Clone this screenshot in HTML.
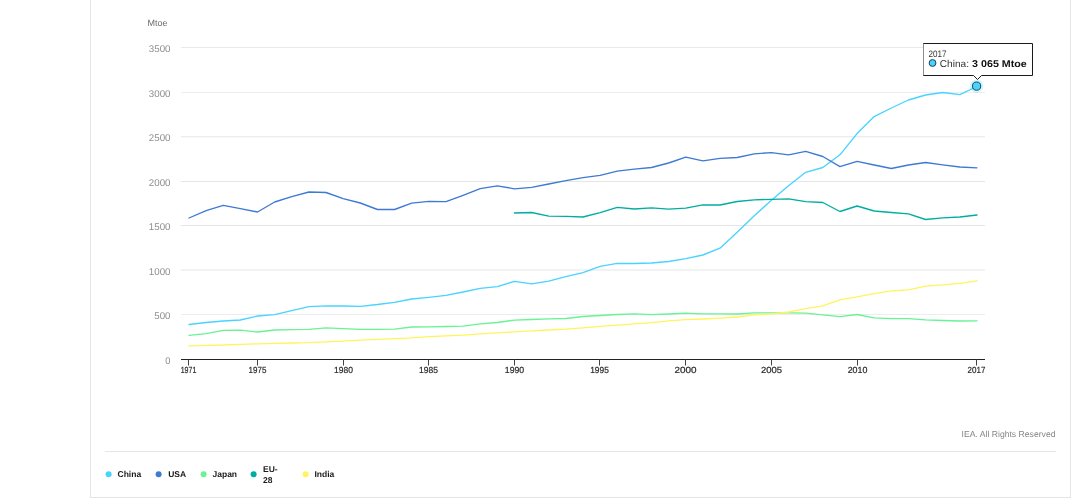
<!DOCTYPE html>
<html lang="en">
<head>
<meta charset="utf-8">
<title>Total primary energy supply</title>
<style>
html,body{margin:0;padding:0;background:#fff;}
body{width:1080px;height:504px;overflow:hidden;position:relative;font-family:"Liberation Sans",Arial,sans-serif;text-rendering:geometricPrecision;}
.card{position:absolute;left:90px;top:-10px;width:979px;height:506px;border:1px solid #e5e5e5;background:#fff;}
svg{position:absolute;left:0;top:0;text-rendering:geometricPrecision;}
.yl{font-size:9.8px;fill:#8e8e8e;}
.xl{font-size:8.9px;fill:#2b2b2b;stroke:#2b2b2b;stroke-width:0.2px;}
.unit{font-size:9px;fill:#6b6b6b;}
.sep{position:absolute;left:105px;top:451px;width:951px;height:1px;background:#e5e5e5;}
.credit{position:absolute;right:24.5px;top:428px;font-size:8.65px;color:#858585;white-space:nowrap;line-height:12px;}
.legend{position:absolute;left:0;top:0;}
.li{position:absolute;font-size:8.5px;font-weight:bold;color:#1a1a1a;line-height:11.7px;white-space:nowrap;}
</style>
</head>
<body>
<div class="card"></div>
<svg width="1080" height="504" viewBox="0 0 1080 504">
<text x="147.5" y="26.2" class="unit">Mtoe</text>
<line x1="181" x2="985" y1="314.50" y2="314.50" stroke="#ededed" stroke-width="1"/>
<line x1="181" x2="985" y1="270.00" y2="270.00" stroke="#e6e6e6" stroke-width="1"/>
<line x1="181" x2="985" y1="225.50" y2="225.50" stroke="#e5e5e5" stroke-width="1"/>
<line x1="181" x2="985" y1="181.50" y2="181.50" stroke="#e5e5e5" stroke-width="1"/>
<line x1="181" x2="985" y1="136.80" y2="136.80" stroke="#e6e6e6" stroke-width="1"/>
<line x1="181" x2="985" y1="92.50" y2="92.50" stroke="#ededed" stroke-width="1"/>
<line x1="181" x2="985" y1="47.50" y2="47.50" stroke="#e9e9e9" stroke-width="1"/>

<text x="170.5" y="364.00" text-anchor="end" class="yl" textLength="5.2" lengthAdjust="spacingAndGlyphs">0</text>
<text x="170.5" y="319.00" text-anchor="end" class="yl" textLength="16.2" lengthAdjust="spacingAndGlyphs">500</text>
<text x="170.5" y="275.00" text-anchor="end" class="yl" textLength="21.7" lengthAdjust="spacingAndGlyphs">1000</text>
<text x="170.5" y="230.00" text-anchor="end" class="yl" textLength="21.7" lengthAdjust="spacingAndGlyphs">1500</text>
<text x="170.5" y="186.00" text-anchor="end" class="yl" textLength="21.7" lengthAdjust="spacingAndGlyphs">2000</text>
<text x="170.5" y="141.00" text-anchor="end" class="yl" textLength="21.7" lengthAdjust="spacingAndGlyphs">2500</text>
<text x="170.5" y="97.00" text-anchor="end" class="yl" textLength="21.7" lengthAdjust="spacingAndGlyphs">3000</text>
<text x="170.5" y="52.00" text-anchor="end" class="yl" textLength="21.7" lengthAdjust="spacingAndGlyphs">3500</text>

<g fill="none" stroke-width="1.35" stroke-linejoin="round" stroke-linecap="round">
<polyline stroke="#49d3ff" points="189.00,324.50 206.13,322.50 223.26,321.00 240.39,320.00 257.52,316.00 274.65,314.60 291.78,310.60 308.91,306.60 326.04,305.80 343.17,306.00 360.30,306.30 377.43,304.50 394.56,302.30 411.69,299.00 428.82,297.30 445.95,295.30 463.08,292.00 480.21,288.30 497.34,286.60 514.47,281.30 531.60,283.80 548.73,281.10 565.86,276.60 582.99,272.60 600.12,266.30 617.25,263.30 634.38,263.50 651.51,263.00 668.64,261.50 685.77,258.70 702.90,255.00 720.03,248.20 737.16,232.30 754.29,215.70 771.42,200.30 788.55,185.80 805.68,172.30 822.81,167.50 839.94,154.80 857.07,133.60 874.20,116.60 891.33,108.00 908.46,100.00 925.59,95.00 942.72,92.50 959.85,94.60 976.98,86.50"/>
<polyline stroke="#3e7ad3" points="189.00,218.00 206.13,210.60 223.26,205.30 240.39,208.60 257.52,212.00 274.65,202.00 291.78,196.60 308.91,192.00 326.04,192.50 343.17,198.60 360.30,203.00 377.43,209.50 394.56,209.50 411.69,203.10 428.82,201.30 445.95,201.60 463.08,195.30 480.21,188.60 497.34,185.80 514.47,188.80 531.60,187.40 548.73,184.00 565.86,180.60 582.99,177.60 600.12,175.30 617.25,171.10 634.38,169.10 651.51,167.50 668.64,163.00 685.77,157.10 702.90,160.80 720.03,158.30 737.16,157.50 754.29,153.80 771.42,152.60 788.55,154.80 805.68,151.30 822.81,156.50 839.94,166.60 857.07,161.40 874.20,165.00 891.33,168.50 908.46,165.00 925.59,162.50 942.72,164.80 959.85,167.00 976.98,167.80"/>
<polyline stroke="#68f394" points="189.00,335.30 206.13,333.60 223.26,330.30 240.39,330.10 257.52,332.00 274.65,330.00 291.78,329.60 308.91,329.30 326.04,327.80 343.17,328.60 360.30,329.30 377.43,329.30 394.56,329.10 411.69,327.00 428.82,326.80 445.95,326.50 463.08,326.10 480.21,323.80 497.34,322.50 514.47,320.10 531.60,319.50 548.73,318.80 565.86,318.50 582.99,316.50 600.12,315.50 617.25,314.50 634.38,313.80 651.51,314.60 668.64,314.00 685.77,313.10 702.90,313.80 720.03,313.80 737.16,314.00 754.29,312.80 771.42,312.80 788.55,312.80 805.68,313.10 822.81,314.80 839.94,316.60 857.07,314.50 874.20,317.80 891.33,318.60 908.46,318.60 925.59,319.80 942.72,320.50 959.85,321.00 976.98,320.80"/>
<polyline stroke="#00ada1" points="514.47,213.00 531.60,212.50 548.73,216.10 565.86,216.30 582.99,217.00 600.12,212.60 617.25,207.30 634.38,209.00 651.51,207.80 668.64,209.10 685.77,208.20 702.90,204.80 720.03,205.00 737.16,201.50 754.29,199.80 771.42,199.30 788.55,198.80 805.68,201.60 822.81,202.50 839.94,211.50 857.07,206.00 874.20,211.00 891.33,212.50 908.46,213.80 925.59,219.50 942.72,217.80 959.85,217.00 976.98,215.00"/>
<polyline stroke="#fff45c" points="189.00,345.80 206.13,345.30 223.26,345.00 240.39,344.30 257.52,343.80 274.65,343.30 291.78,343.00 308.91,342.60 326.04,341.80 343.17,341.10 360.30,340.20 377.43,339.30 394.56,338.60 411.69,337.80 428.82,336.60 445.95,335.80 463.08,335.10 480.21,333.80 497.34,332.80 514.47,331.90 531.60,330.90 548.73,330.00 565.86,329.10 582.99,327.80 600.12,326.30 617.25,325.10 634.38,323.80 651.51,322.60 668.64,320.80 685.77,319.70 702.90,319.00 720.03,318.10 737.16,317.00 754.29,314.80 771.42,313.80 788.55,312.00 805.68,308.60 822.81,305.80 839.94,299.90 857.07,296.80 874.20,293.60 891.33,290.80 908.46,289.80 925.59,286.10 942.72,284.80 959.85,283.30 976.98,280.80"/>
</g>
<line x1="181" x2="985" y1="359.5" y2="359.5" stroke="#222" stroke-width="1"/>
<line x1="188.50" x2="188.50" y1="359.5" y2="365.5" stroke="#444" stroke-width="1"/>
<line x1="257.50" x2="257.50" y1="359.5" y2="365.5" stroke="#444" stroke-width="1"/>
<line x1="343.50" x2="343.50" y1="359.5" y2="365.5" stroke="#444" stroke-width="1"/>
<line x1="428.50" x2="428.50" y1="359.5" y2="365.5" stroke="#444" stroke-width="1"/>
<line x1="514.50" x2="514.50" y1="359.5" y2="365.5" stroke="#444" stroke-width="1"/>
<line x1="599.50" x2="599.50" y1="359.5" y2="365.5" stroke="#444" stroke-width="1"/>
<line x1="685.50" x2="685.50" y1="359.5" y2="365.5" stroke="#444" stroke-width="1"/>
<line x1="771.50" x2="771.50" y1="359.5" y2="365.5" stroke="#444" stroke-width="1"/>
<line x1="857.50" x2="857.50" y1="359.5" y2="365.5" stroke="#444" stroke-width="1"/>
<line x1="976.50" x2="976.50" y1="359.5" y2="365.5" stroke="#444" stroke-width="1"/>

<text x="188.50" y="373" text-anchor="middle" class="xl" textLength="15.6" lengthAdjust="spacingAndGlyphs">1971</text>
<text x="257.50" y="373" text-anchor="middle" class="xl" textLength="17.8" lengthAdjust="spacingAndGlyphs">1975</text>
<text x="343.50" y="373" text-anchor="middle" class="xl" textLength="18.9" lengthAdjust="spacingAndGlyphs">1980</text>
<text x="428.50" y="373" text-anchor="middle" class="xl" textLength="18.9" lengthAdjust="spacingAndGlyphs">1985</text>
<text x="514.50" y="373" text-anchor="middle" class="xl" textLength="19.4" lengthAdjust="spacingAndGlyphs">1990</text>
<text x="599.50" y="373" text-anchor="middle" class="xl" textLength="18.6" lengthAdjust="spacingAndGlyphs">1995</text>
<text x="685.50" y="373" text-anchor="middle" class="xl" textLength="22.0" lengthAdjust="spacingAndGlyphs">2000</text>
<text x="771.50" y="373" text-anchor="middle" class="xl" textLength="21.1" lengthAdjust="spacingAndGlyphs">2005</text>
<text x="857.50" y="373" text-anchor="middle" class="xl" textLength="19.7" lengthAdjust="spacingAndGlyphs">2010</text>
<text x="976.50" y="373" text-anchor="middle" class="xl" textLength="17.8" lengthAdjust="spacingAndGlyphs">2017</text>

<circle cx="976.6" cy="86.1" r="6.7" fill="#49d3ff" fill-opacity="0.25"/>
<circle cx="976.6" cy="86.1" r="4.1" fill="#49d3ff" stroke="#1f4254" stroke-width="1"/>
</svg>
<svg width="1080" height="504" viewBox="0 0 1080 504">
<path d="M923.5 43.5 H1032.5 V75.5 H981.5 L977.5 79.5 L973.5 75.5 H923.5 Z" fill="#fff" stroke="#1a1a1a" stroke-width="1"/>
<line x1="923.5" x2="923.5" y1="44" y2="75" stroke="#8c8c8c" stroke-width="1"/>
<text x="928.4" y="56.9" font-size="9.4" fill="#333" textLength="18" lengthAdjust="spacingAndGlyphs">2017</text>
<circle cx="932.55" cy="63" r="3.4" fill="#49d3ff" stroke="#1f4254" stroke-width="1"/>
<text x="939.7" y="66.7" font-size="9.9" fill="#333" textLength="29.3" lengthAdjust="spacingAndGlyphs">China:</text>
<text x="972.1" y="66.7" font-size="9.9" font-weight="bold" fill="#111" textLength="54.7" lengthAdjust="spacingAndGlyphs">3 065 Mtoe</text>
</svg>
<div class="credit">IEA. All Rights Reserved</div>
<div class="sep"></div>
<svg width="1080" height="504" viewBox="0 0 1080 504"><circle cx="108.60" cy="474.3" r="3" fill="#49d3ff"/><circle cx="158.60" cy="474.3" r="3" fill="#3e7ad3"/><circle cx="203.60" cy="474.3" r="3" fill="#68f394"/><circle cx="253.60" cy="474.3" r="3" fill="#00ada1"/><circle cx="305.60" cy="474.3" r="3" fill="#fff45c"/></svg>
<div class="legend">
<span class="li" style="left:117.5px;top:469px">China</span>
<span class="li" style="left:168.2px;top:469px">USA</span>
<span class="li" style="left:212.5px;top:469px">Japan</span>
<span class="li" style="line-height:11.2px;left:263px;top:463.95px">EU-<br>28</span>
<span class="li" style="left:314.5px;top:469px">India</span>
</div>
</body>
</html>
